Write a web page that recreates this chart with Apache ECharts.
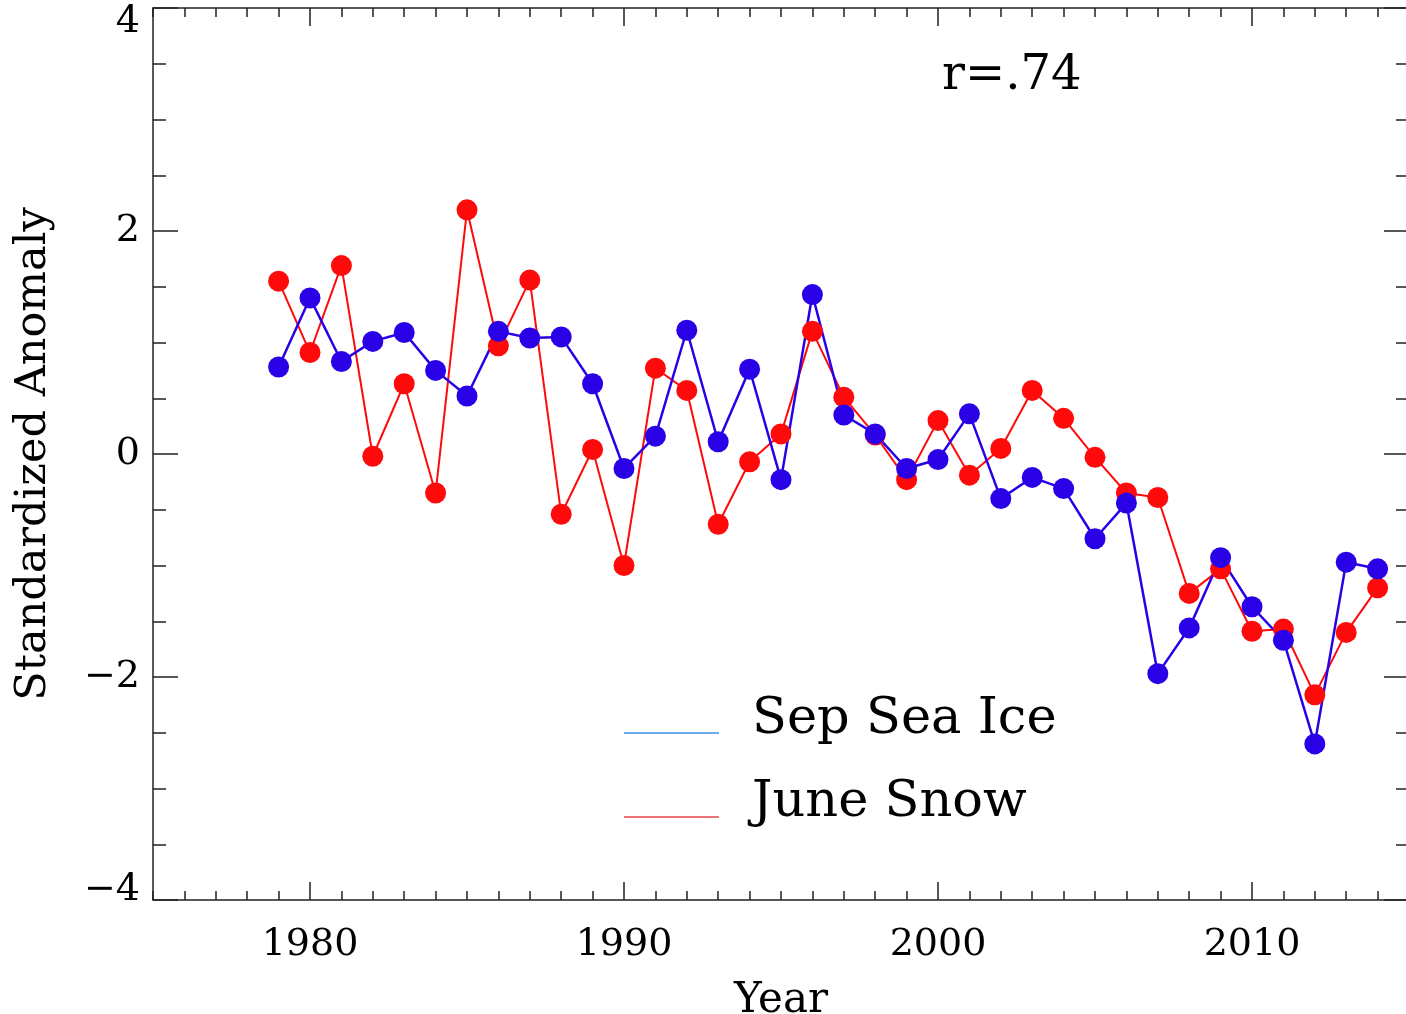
<!DOCTYPE html>
<html>
<head>
<meta charset="utf-8">
<script src="https://cdn.jsdelivr.net/npm/echarts@6/dist/echarts.min.js"></script>
<style>
html,body{margin:0;padding:0;background:#fff;overflow:hidden;}
#chart{width:1406px;height:1014px;}
</style>
</head>
<body>
<div id="chart"></div>
<script>
const years = [1979,1980,1981,1982,1983,1984,1985,1986,1987,1988,1989,1990,1991,1992,1993,1994,1995,1996,1997,1998,1999,2000,2001,2002,2003,2004,2005,2006,2007,2008,2009,2010,2011,2012,2013,2014];
const sepSeaIce = [0.78,1.40,0.83,1.01,1.09,0.75,0.52,1.10,1.04,1.05,0.63,-0.13,0.16,1.11,0.11,0.76,-0.23,1.43,0.35,0.18,-0.13,-0.05,0.36,-0.40,-0.21,-0.31,-0.76,-0.44,-1.97,-1.56,-0.93,-1.37,-1.67,-2.60,-0.97,-1.03];
const juneSnow = [1.55,0.91,1.69,-0.02,0.63,-0.35,2.19,0.97,1.56,-0.54,0.04,-1.00,0.77,0.57,-0.63,-0.07,0.18,1.10,0.51,0.17,-0.23,0.30,-0.19,0.05,0.57,0.32,-0.03,-0.35,-0.39,-1.25,-1.03,-1.59,-1.57,-2.16,-1.60,-1.20];
const xMajorTicks = [1980,1990,2000,2010];
const seriesNames = ['Sep Sea Ice','June Snow'];
const corrText = 'r=.74';

const FONT = 'DejaVu Serif';
const AX = '#222';
const BLUE = '#2a00e6';
const RED = '#ff0a0a';

const chart = echarts.init(document.getElementById('chart'), null, {renderer:'canvas'});

function xMajor(pos, labels){
  return {
    type:'value', gridIndex:0, position:pos, min:1975, max:2015, interval:1,
    axisLine:{show:true, onZero:false, lineStyle:{color:AX, width:1.5}},
    axisTick:{show:true, inside:true, length:18, customValues:xMajorTicks, lineStyle:{color:AX, width:1.5}},
    axisLabel:{show:labels, customValues:xMajorTicks, fontFamily:FONT, fontSize:38, color:'#000', margin:26,
      formatter: v => String(v)},
    splitLine:{show:false},
    name: labels ? 'Year' : '', nameLocation:'middle', nameGap:80,
    nameTextStyle:{fontFamily:FONT, fontSize:42, color:'#000'}
  };
}
function xMinor(pos){
  return {
    type:'value', gridIndex:0, position:pos, min:1975, max:2015, interval:1,
    axisLine:{show:false, onZero:false},
    axisTick:{show:true, inside:true, length:9, lineStyle:{color:AX, width:1.5}},
    axisLabel:{show:false}, splitLine:{show:false}
  };
}
function yAxis(pos, labels){
  const rs = {fontFamily:FONT, fontSize:38, color:'#000'};
  return {
    type:'value', gridIndex:0, position:pos, min:-4, max:4, interval:2,
    axisLine:{show:true, onZero:false, lineStyle:{color:AX, width:1.5}},
    axisTick:{show:true, inside:true, length:25, lineStyle:{color:AX, width:1.5}},
    minorTick:{show:true, splitNumber:4, length:13, lineStyle:{color:AX, width:1.5}},
    axisLabel:{show:labels, fontFamily:FONT, fontSize:38, color:'#000', margin:13,
      formatter: v => {
        const s = v < 0 ? '\u2212' + Math.abs(v) : String(v);
        if (v === 4) return '{t|' + s + '}';
        if (v === -4) return '{b|' + s + '}';
        return s;
      },
      rich:{
        t:Object.assign({padding:[28,0,0,0]}, rs),
        b:Object.assign({padding:[0,0,20,0]}, rs)
      }},
    splitLine:{show:false},
    name: labels ? 'Standardized Anomaly' : '', nameLocation:'middle', nameGap:98,
    nameTextStyle:{fontFamily:FONT, fontSize:43, color:'#000'}
  };
}

const snowData = years.map((y,i)=>[y, juneSnow[i]]);
const iceData = years.map((y,i)=>[y, sepSeaIce[i]]);

chart.setOption({
  animation:false,
  backgroundColor:'#fff',
  grid:{left:153, top:8, right:-3, bottom:114, containLabel:false, outerBoundsMode:'none'},
  xAxis:[xMajor('bottom', true), xMinor('bottom'), xMajor('top', false), xMinor('top')],
  yAxis:[yAxis('left', true), yAxis('right', false)],
  series:[
    {name:seriesNames[1], type:'line', xAxisIndex:0, yAxisIndex:0, data:snowData,
     symbol:'circle', symbolSize:21, itemStyle:{color:RED}, lineStyle:{color:RED, width:2}},
    {name:seriesNames[0], type:'line', xAxisIndex:0, yAxisIndex:0, data:iceData,
     symbol:'circle', symbolSize:21, itemStyle:{color:BLUE}, lineStyle:{color:BLUE, width:2.5}}
  ],
  graphic:[
    {type:'text', left:942, top:53, style:{text:corrText, font:'48px "DejaVu Serif"', fill:'#000'}},
    {type:'line', shape:{x1:624, y1:733, x2:719, y2:733}, style:{stroke:'#3d8fe6', lineWidth:1.5}},
    {type:'line', shape:{x1:624, y1:817, x2:719, y2:817}, style:{stroke:'#e8474a', lineWidth:1.5}},
    {type:'text', left:752, top:694, style:{text:seriesNames[0], font:'51px "DejaVu Serif"', fill:'#000'}},
    {type:'text', left:752, top:777, style:{text:seriesNames[1], font:'51px "DejaVu Serif"', fill:'#000'}}
  ]
});
</script>
</body>
</html>
